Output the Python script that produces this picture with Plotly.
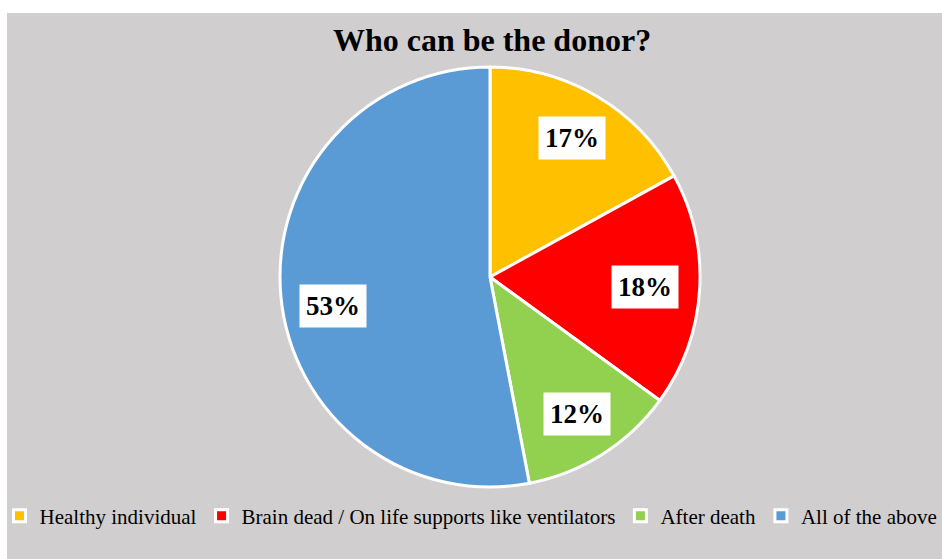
import math
import plotly.graph_objects as go

categories = ["Healthy individual", "Brain dead / On life supports like ventilators", "After death", "All of the above"]
values = [17, 18, 12, 53]
colors = ["#FFC000", "#FF0000", "#92D050", "#5B9BD5"]
title_text = "Who can be the donor?"

W, H = 942, 559


def px_to_paper(sx, sy):
    return sx / W, (H - sy) / H


cx_px, cy_px, r_px = 490, 277, 210
x0, y1 = px_to_paper(cx_px - r_px, cy_px - r_px)
x1, y0 = px_to_paper(cx_px + r_px, cy_px + r_px)

fig = go.Figure()
fig.add_trace(go.Pie(
    labels=categories, values=values, sort=False, direction="clockwise", rotation=0,
    marker=dict(colors=colors, line=dict(color="white", width=3)),
    textinfo="none", hoverinfo="label+percent",
    domain=dict(x=[x0, x1], y=[y0, y1]), showlegend=True,
))

# data labels in white boxes, placed near slice mid-angle
angle_nudge = [0, 0, 0, -5]
radial_frac = [0.77, 0.74, 0.77, 0.76]
total = sum(values)
cum = 0
for i, v in enumerate(values):
    mid = (cum + v / 2) / total * 360 + angle_nudge[i]
    cum += v
    a = math.radians(mid)
    sx = cx_px + math.sin(a) * r_px * radial_frac[i]
    sy = cy_px - math.cos(a) * r_px * radial_frac[i]
    ax_, ay_ = px_to_paper(sx, sy)
    fig.add_annotation(
        x=ax_, y=ay_, xref="paper", yref="paper", xanchor="center", yanchor="middle",
        text="<b>%d%%</b>" % round(v / total * 100), showarrow=False,
        font=dict(family="Liberation Serif", size=27, color="black"),
        bgcolor="white", borderpad=6,
    )

# grey chart area (white strip at top and left like the reference)
gx0, gy1 = px_to_paper(7, 13)
fig.add_shape(type="rect", xref="paper", yref="paper", x0=gx0, x1=1, y0=0, y1=gy1,
              fillcolor="#D0CECE", line=dict(width=0), layer="below")

tx = 492 / W
fig.update_layout(
    width=W, height=H,
    margin=dict(l=0, r=0, t=0, b=0),
    paper_bgcolor="white",
    title=dict(text="<b>%s</b>" % title_text, x=tx, xanchor="center",
               y=1 - 40 / H, yanchor="middle",
               font=dict(family="Liberation Serif", size=32, color="black")),
    legend=dict(orientation="h", x=0.5, xanchor="center",
                y=(H - 516) / H, yanchor="middle",
                font=dict(family="Liberation Serif", size=21, color="black"),
                bgcolor="rgba(0,0,0,0)", itemwidth=30, tracegroupgap=0),
)

fig.write_html("out.html", config={"displayModeBar": False},
               post_script="document.body.style.margin='0';")
